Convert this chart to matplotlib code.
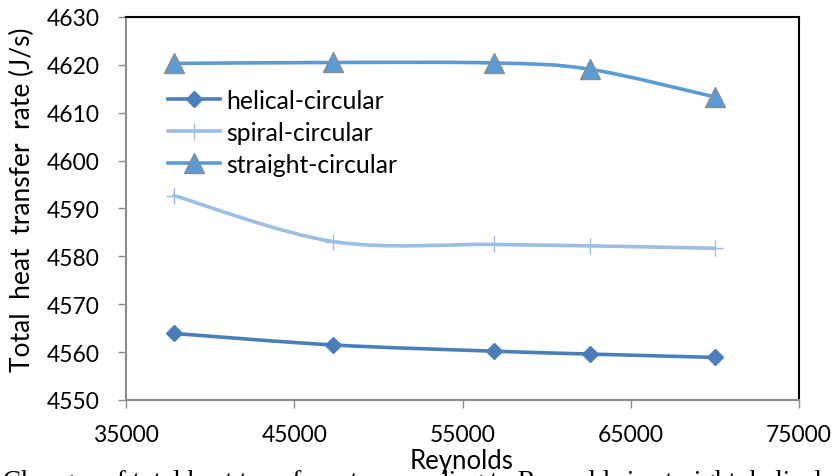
import numpy as np
import matplotlib
matplotlib.use("Agg")
import matplotlib.pyplot as plt
from matplotlib.path import Path
from matplotlib.patches import PathPatch
from matplotlib.lines import Line2D

reynolds = [37850, 47300, 56850, 62550, 70000]
helical = [4563.9, 4561.5, 4560.2, 4559.6, 4558.9]
spiral = [4592.7, 4583.1, 4582.5, 4582.2, 4581.7]
straight = [4620.3, 4620.5, 4620.4, 4619.1, 4613.3]
series_names = ["helical-circular", "spiral-circular", "straight-circular"]
x_ticks = [35000, 45000, 55000, 65000, 75000]
y_ticks = [4550, 4560, 4570, 4580, 4590, 4600, 4610, 4620, 4630]

c_hel = "#4a7ebb"
c_spi = "#9dbde3"
c_str = "#5b9bd5"

plt.rcParams['font.family'] = ['Lato', 'DejaVu Sans']
fig = plt.figure(figsize=(8.35, 4.77), dpi=100)
ax = fig.add_axes([126/835, 76/477, 673/835, 383/477])


def smooth_path(xs, ys):
    pts = np.column_stack([xs, ys]).astype(float)
    n = len(pts)
    verts = [pts[0]]
    codes = [Path.MOVETO]
    for i in range(n - 1):
        p0 = pts[i - 1] if i > 0 else pts[i]
        p1 = pts[i]
        p2 = pts[i + 1]
        p3 = pts[i + 2] if i + 2 < n else pts[i + 1]
        c1 = p1 + (p2 - p0) / 6.0
        c2 = p2 - (p3 - p1) / 6.0
        verts += [c1, c2, p2]
        codes += [Path.CURVE4] * 3
    return Path(verts, codes)


lw = 2.6
for ys, col in [(helical, c_hel), (spiral, c_spi), (straight, c_str)]:
    ax.add_patch(PathPatch(smooth_path(reynolds, ys), facecolor='none',
                           edgecolor=col, lw=lw, capstyle='round', zorder=2))

ax.plot(reynolds, helical, ls='none', marker='D', ms=8, color=c_hel, zorder=3)
ax.plot(reynolds, spiral, ls='none', marker='+', ms=11, mew=1.0, color=c_spi, zorder=3)
ax.plot(reynolds, straight, ls='none', marker='^', ms=15, mfc=c_str, mec='#8c8c8c',
        mew=1.0, zorder=3)

ax.set_xlim(35000, 75000)
ax.set_ylim(4550, 4630)
ax.set_xticks(x_ticks)
ax.set_yticks(y_ticks)
ax.tick_params(direction='out', length=6, width=1, color='#8c8c8c',
               labelsize=16.5, labelcolor='black')
ax.tick_params(axis='y', pad=13)
ax.tick_params(axis='x', pad=11)
for s in ['left', 'bottom']:
    ax.spines[s].set_color('#8c8c8c')
    ax.spines[s].set_linewidth(1.5)
for s in ['top', 'right']:
    ax.spines[s].set_color('black')
    ax.spines[s].set_linewidth(1.5)

handles = [
    Line2D([], [], color=c_hel, lw=lw, marker='D', ms=8),
    Line2D([], [], color=c_spi, lw=lw, marker='+', ms=11, mew=1.0),
    Line2D([], [], color=c_str, lw=lw, marker='^', ms=15, mfc=c_str, mec='#8c8c8c', mew=1.0),
]
ax.legend(handles, series_names, loc='upper left', bbox_to_anchor=(0.062, 0.812),
          frameon=False, fontsize=17.8, handlelength=2.1, handletextpad=0.25,
          labelspacing=0.36, borderaxespad=0, borderpad=0)

fig.text(22/835, 1 - 200/477, "Total  heat  transfer  rate (J/s)", rotation=90,
         ha='center', va='center', fontsize=19)
fig.text(462/835, 1 - 469/477, "Reynolds", ha='center', va='baseline', fontsize=18.5)
fig.text(3/835, 1 - 470/477,
         "Changes of total heat transfer rate according to Reynolds in straight, helical and spiral",
         ha='left', va='top', fontsize=19.5, family='Liberation Serif')

fig.savefig("out.png", dpi=100)
